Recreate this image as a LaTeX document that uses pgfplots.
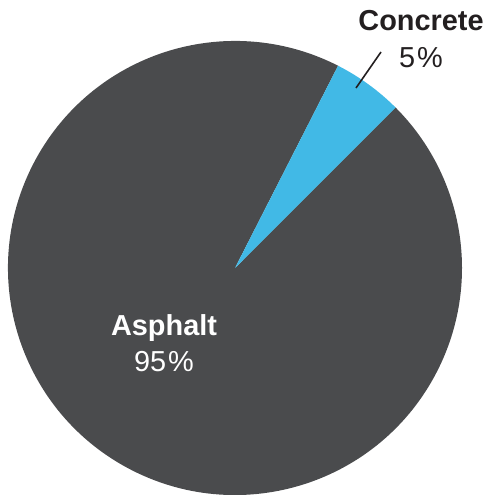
\documentclass[border=0pt]{standalone}
\usepackage{pgfplots}
\usepackage{pgfplotstable}
\pgfplotsset{compat=1.18}
\usepackage{fontspec}
\setmainfont{Liberation Sans}
\definecolor{asphalt}{HTML}{4A4B4D}
\definecolor{concrete}{HTML}{41B9E6}
\definecolor{ink}{HTML}{231F20}

\pgfplotstableread{
name     value
Asphalt  95
Concrete 5
}\piedata

\begin{document}
\begin{tikzpicture}
\pgfplotstablegetelem{0}{value}\of\piedata \let\va\pgfplotsretval
\pgfplotstablegetelem{1}{value}\of\piedata \let\vc\pgfplotsretval
\pgfmathsetmacro{\sc}{45}
\pgfmathsetmacro{\ec}{\sc+3.6*\vc}
\pgfmathsetmacro{\ea}{\ec+3.6*\va}
\begin{axis}[
    hide axis,
    x=1bp, y=1bp,
    xmin=0, xmax=487, ymin=0, ymax=495,
    clip=false,
]
\coordinate (ll) at (axis cs:0,0);
\coordinate (ur) at (axis cs:487,495);
% asphalt slice
\fill[asphalt] (axis cs:235,227) -- +(\ec:227bp) arc[start angle=\ec, end angle=\ea, radius=227bp] -- cycle;
% concrete slice
\fill[concrete] (axis cs:235,227) -- +(\sc:227bp) arc[start angle=\sc, end angle=\ec, radius=227bp] -- cycle;
\draw[ink, line width=1.6bp] (axis cs:356,407) -- (axis cs:381,443);
\node[ink, font=\fontsize{29}{32}\selectfont\bfseries] at (axis cs:421,474) {Concrete};
\node[ink, font=\fontsize{29}{32}\selectfont] at (axis cs:421,437) {5\kern2bp\%};
\node[white, font=\fontsize{29}{32}\selectfont\bfseries] at (axis cs:164,167) {Asphalt};
\node[white, font=\fontsize{29}{32}\selectfont] at (axis cs:164,133) {95\kern2bp\%};
\end{axis}
\pgfresetboundingbox
\useasboundingbox (ll) rectangle (ur);
\end{tikzpicture}
\end{document}
